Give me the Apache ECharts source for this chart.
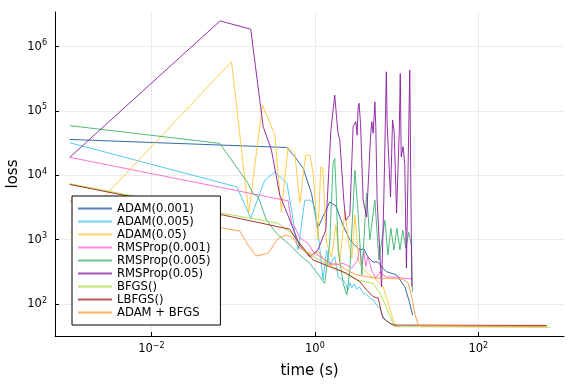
<!DOCTYPE html>
<html><head><meta charset="utf-8">
<script src="https://cdn.jsdelivr.net/npm/echarts@6/dist/echarts.min.js"></script>
<style>html,body{margin:0;padding:0;background:#fff}#c{width:576px;height:384px}</style>
</head><body><div id="c"></div>
<script>
// ---- data: [time (s), loss] ----
const names = ['ADAM(0.001)','ADAM(0.005)','ADAM(0.05)','RMSProp(0.001)','RMSProp(0.005)','RMSProp(0.05)','BFGS()','LBFGS()','ADAM + BFGS'];

const adam001 = [[0.001,3.6e4],[0.45,2.7e4],[0.57,1.94e4],[0.72,1.28e4],[0.91,5.2e3],[1.09,1.51e3],[1.25,2.24e3],[1.52,3.84e3],[1.81,3.33e3],[2.2,1.69e3],[2.68,1.0e3],[3.24,768],[3.55,690],[3.98,720],[4.45,540],[5.13,450],[5.9,450],[6.8,360],[7.5,318],[10,282],[12.6,186],[14.5,103],[15.7,67]];

const adam005 = [[0.001,3.2e4],[0.111,6.6e3],[0.164,2.16e3],[0.244,8.4e3],[0.324,1.12e4],[0.454,7.6e3],[0.518,2.9e3],[0.569,1.26e3],[0.624,690],[0.753,4.1e3],[0.867,4.1e3],[0.953,3.7e3],[1.1,1.26e3],[1.26,236],[1.39,690],[1.52,403],[1.75,542],[1.93,262],[2.22,236],[2.4,200],[2.55,165],[2.7,215],[2.84,180],[3.05,205],[3.24,170],[3.5,185],[3.9,148],[4.3,140],[4.71,124],[5.2,115],[5.69,96],[6.3,85],[6.85,63],[7.5,55],[8.28,50],[9.53,45],[11,44.5]];

const adam05 = [[0.001,1.26e3],[0.0955,5.8e5],[0.155,2.6e3],[0.229,1.23e5],[0.324,4.2e4],[0.388,2.7e3],[0.471,2.77e4],[0.569,2.19e4],[0.655,3.7e3],[0.769,2.06e4],[0.867,2.06e4],[0.953,1.08e4],[1.09,1.0e3],[1.18,1.34e4],[1.25,1.29e4],[1.39,885],[1.6,537],[1.81,1.69e3],[2.02,449],[2.33,2.88e3],[2.61,824],[2.84,518],[3.09,2.41e3],[3.46,449],[4.3,303],[5.69,236],[6.85,184],[7.89,104],[9.08,56.5],[10,45.5],[11,44.5]];

const rms001 = [[0.001,1.9e4],[0.471,4.0e3],[0.518,1.79e3],[0.569,1.57e3],[0.655,1.06e3],[0.826,877],[0.953,649],[1.32,482],[1.75,403],[2.22,429],[2.84,362],[3.3,470],[3.55,750],[3.75,420],[3.98,650],[4.2,380],[4.45,550],[4.97,330],[5.57,253],[6.25,314],[7.5,262],[10,262],[12.6,250],[15.7,244]];

const rms005 = [[0.001,5.9e4],[0.0686,3.13e4],[0.152,7.5e3],[0.175,5.2e3],[0.202,4.6e3],[0.256,2.0e3],[0.34,1.25e3],[0.493,824],[0.655,577],[0.867,429],[1.0,337],[1.32,209],[1.52,885],[1.6,4.1e3],[1.67,1.53e4],[1.75,1.83e4],[1.84,4.1e3],[1.93,690],[2.22,209],[2.46,138],[2.68,337],[3.09,1.2e4],[3.36,2.9e3],[3.76,282],[4.3,5.2e3],[4.71,1.0e3],[5.43,4.1e3],[6.08,482],[7.2,2.0e3],[7.83,577],[8.52,1.5e3],[9.27,690],[10.1,1.5e3],[11,690],[11.9,1.4e3],[13,741],[14.1,1.3e3],[15.2,824],[15.6,153]];

const rms05 = [[0.001,1.9e4],[0.0692,2.5e6],[0.164,1.86e6],[0.233,5.7e4],[0.294,2.46e4],[0.372,4.9e3],[0.467,2.4e3],[0.655,795],[0.867,537],[1.09,690],[1.36,1.41e3],[1.57,5.0e4],[1.75,1.76e5],[1.91,4.7e4],[2.02,3.5e4],[2.26,4.1e3],[2.39,2.0e3],[2.68,2.4e3],[2.94,5.7e4],[3.17,6.8e4],[3.29,4.2e4],[3.39,1.16e5],[3.48,1.31e5],[3.62,6.4e4],[3.9,4.1e3],[4.3,2.24e3],[4.8,4.0e4],[4.98,6.8e4],[5.17,4.5e4],[5.43,1.38e5],[5.57,5.7e4],[5.78,4.1e3],[6.55,186],[6.98,4.1e3],[7.5,4.05e5],[7.67,6.4e4],[8.43,4.6e3],[8.93,7.2e4],[9.35,4.7e4],[10,2.6e3],[10.8,5.2e4],[11.1,3.8e5],[11.4,1.94e4],[12,2.77e4],[12.6,1.53e4],[13.2,362],[14.1,5.35e4],[14.5,4.3e5],[15,4.1e3],[15.4,186]];

const bfgs = [[0.001,7.4e3],[0.0753,2.56e3],[0.355,1.79e3],[0.518,1.25e3],[0.655,877],[0.79,613],[1.26,454],[2.02,337],[3.24,236],[5.17,209],[6.25,147],[7.5,91],[8.69,56.5],[9.53,44.4],[755,43.5]];

const lbfgs = [[0.001,7.2e3],[0.0753,2.41e3],[0.493,1.45e3],[0.596,1.0e3],[0.79,649],[0.953,482],[1.52,380],[2.44,300],[3.55,222],[4.3,165],[5.17,130],[5.96,123],[6.55,72],[6.85,60],[8.28,50],[9.53,47],[687,46.4]];

const adamBfgs = [[0.001,4.0e3],[0.0753,1.5e3],[0.12,1.37e3],[0.152,824],[0.193,556],[0.268,613],[0.355,1.05e3],[0.45,1.18e3],[0.542,1.05e3],[0.655,733],[0.718,690],[0.953,577],[1.1,649],[1.26,513],[1.52,403],[1.84,429],[2.44,337],[3.24,282],[4.3,266],[5.69,251],[8.28,251],[12,242],[13.9,209],[15.3,130],[16.7,72],[18.4,47],[20.2,45.5],[687,44.4]];

const xTicks = [0.01, 1, 100];
const yTicks = [100, 1e3, 1e4, 1e5, 1e6];
const xRange = [6.6e-4, 1120];
const yRange = [31.8, 3.44e6];

// ---- styling ----
const seriesData = [adam001, adam005, adam05, rms001, rms005, rms05, bfgs, lbfgs, adamBfgs];
const colors = ['#1f5a9e','#3fc6f0','#ffc63a','#ff62d0','#3bb36e','#8a1c9e','#a6e03c','#a51c1c','#ff9438'];
const FF = 'DejaVu Sans';
const lg = Math.log10;
function expLabel(v){
  const e = Math.round(v);
  const s = e < 0 ? '\u2212' + (-e) : String(e);
  return '{b|10}{s|' + s + '}';
}
const rich = {
  b: {fontSize: 11.5, fontFamily: FF, color: '#000', lineHeight: 15},
  s: {fontSize: 8, fontFamily: FF, color: '#000', lineHeight: 10, verticalAlign: 'top'}
};

const chart = echarts.init(document.getElementById('c'), null, {renderer: 'canvas'});
chart.setOption({
  animation: false,
  backgroundColor: '#fff',
  grid: {left: 55, right: 12, top: 12, bottom: 48, show: false, containLabel: false, outerBoundsMode: 'none'},
  xAxis: {
    type: 'value', min: lg(xRange[0]), max: lg(xRange[1]),
    name: 'time (s)', nameLocation: 'middle', nameGap: 28, nameMoveOverlap: false,
    nameTextStyle: {fontFamily: FF, fontSize: 15, color: '#000'},
    axisLine: {show: true, onZero: false, lineStyle: {color: '#000', width: 1}},
    axisTick: {show: true, inside: true, length: 4, customValues: xTicks.map(lg), lineStyle: {color: '#000'}},
    axisLabel: {customValues: xTicks.map(lg), formatter: expLabel, rich: rich, margin: 6},
    splitLine: {show: true, lineStyle: {color: '#ebebeb', width: 1}}
  },
  yAxis: {
    type: 'value', min: lg(yRange[0]), max: lg(yRange[1]),
    name: 'loss', nameLocation: 'middle', nameGap: 34, nameRotate: 90, nameMoveOverlap: false,
    nameTextStyle: {fontFamily: FF, fontSize: 15, color: '#000'},
    axisLine: {show: true, onZero: false, lineStyle: {color: '#000', width: 1}},
    axisTick: {show: true, inside: true, length: 4, customValues: yTicks.map(lg), lineStyle: {color: '#000'}},
    axisLabel: {customValues: yTicks.map(lg), formatter: expLabel, rich: rich, margin: 8},
    splitLine: {show: true, lineStyle: {color: '#ebebeb', width: 1}}
  },
  legend: {
    orient: 'vertical', left: 72, top: 196,
    padding: [6, 10, 6, 6], itemGap: 0, itemWidth: 34, itemHeight: 2, icon: 'rect',
    backgroundColor: '#fff', borderColor: '#000', borderWidth: 1, borderRadius: 0,
    textStyle: {fontFamily: FF, fontSize: 11.6, color: '#000', lineHeight: 13},
    itemStyle: {opacity: 0.75},
    data: names
  },
  series: names.map((n, i) => ({
    type: 'line', name: n,
    data: seriesData[i].map(p => [lg(p[0]), lg(p[1])]),
    showSymbol: false, symbol: 'none', silent: true,
    lineStyle: {width: 1, color: colors[i], opacity: 0.9},
    itemStyle: {color: colors[i]},
    emphasis: {disabled: true}
  }))
});
</script></body></html>
